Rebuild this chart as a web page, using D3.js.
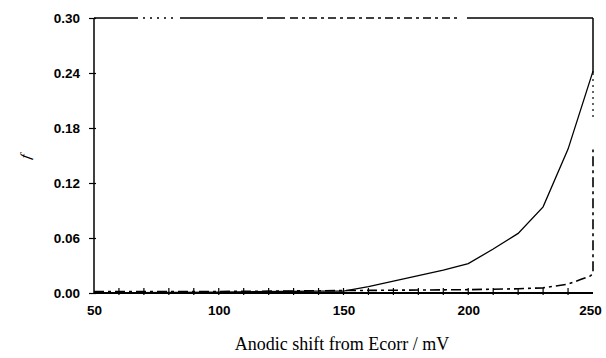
<!DOCTYPE html>
<html>
<head>
<meta charset="utf-8">
<script src="https://cdn.jsdelivr.net/npm/d3@7"></script>
<style>
html, body { margin: 0; padding: 0; background: #fff; overflow: hidden; }
svg { display: block; }
text { fill: #000; }
</style>
</head>
<body>
<div id="chart"></div>
<script>
const width = 606;
const height = 358;
const margin = {top: 18, right: 13, bottom: 65, left: 94};
const innerWidth = width - margin.left - margin.right;
const innerHeight = height - margin.top - margin.bottom;

// data
const xTicks = [50, 100, 150, 200, 250];
const yTicks = [0, 0.06, 0.12, 0.18, 0.24, 0.30];
const solidX = [50, 100, 140, 150, 160, 170, 180, 190, 200, 210, 220, 230, 240, 250];
const solidY = [0, 0.001, 0.002, 0.002, 0.007, 0.013, 0.019, 0.025, 0.032, 0.048, 0.065, 0.094, 0.157, 0.242];
const dashX = [50, 100, 150, 200, 220, 230, 240, 245, 249, 250, 250];
const dashY = [0, 0, 0.001, 0.002, 0.003, 0.004, 0.008, 0.013, 0.017, 0.02, 0.155];
const markX = [60, 70, 80, 90, 100, 110, 120, 130, 140, 150, 160, 170, 180, 190, 200, 210, 220, 230, 240];

const root = d3.select("#chart")
    .append("svg")
        .attr("width", width)
        .attr("height", height);

const svg = root.append("g")
    .attr("transform", "translate(" + margin.left + "," + margin.top + ")");

const xScale = d3.scaleLinear().domain([50, 250]).range([0, innerWidth]);
const yScale = d3.scaleLinear().domain([0, 0.30]).range([innerHeight, 0]);

const tickFont = "'Liberation Sans', Arial, sans-serif";

// frame: left, bottom solid; top with scan gaps; right partly dotted
svg.append("line")
    .attr("x1", 0).attr("x2", 0).attr("y1", 0).attr("y2", innerHeight)
    .attr("stroke", "#000").attr("stroke-width", 1.5);
svg.append("line")
    .attr("x1", 0).attr("x2", innerWidth).attr("y1", innerHeight).attr("y2", innerHeight)
    .attr("stroke", "#000").attr("stroke-width", 2);

const topDash = [44, 5, 2, 5, 2, 5, 2, 5, 2, 5, 2, 7, 83, 4, 18, 5]
    .concat(d3.merge(d3.range(9).map(() => [8, 4, 3, 4])))
    .concat([0, 6, 150]);
svg.append("line")
    .attr("x1", 0).attr("x2", innerWidth).attr("y1", 0).attr("y2", 0)
    .attr("stroke", "#000").attr("stroke-width", 1.3)
    .attr("stroke-dasharray", topDash.join(","));
svg.append("line")
    .attr("x1", innerWidth).attr("x2", innerWidth).attr("y1", 0).attr("y2", yScale(0.24))
    .attr("stroke", "#000").attr("stroke-width", 1.5);
svg.append("line")
    .attr("x1", innerWidth).attr("x2", innerWidth).attr("y1", yScale(0.24)).attr("y2", yScale(0.19))
    .attr("stroke", "#000").attr("stroke-width", 1.2).attr("stroke-dasharray", "2,4");

// axes
const xAxis = svg.append("g")
    .attr("class", "x-axis")
    .attr("transform", "translate(0," + innerHeight + ")")
    .call(d3.axisBottom(xScale).tickValues(xTicks).tickSize(0).tickPadding(12).tickFormat(d3.format("d")));
xAxis.select(".domain").remove();
xAxis.selectAll("text")
    .attr("font-family", tickFont)
    .attr("font-size", 13.5).attr("font-weight", "bold");
xAxis.selectAll(".tick").filter(d => d === 250).select("text").attr("dx", -3);

// y axis sits in the page's own x coordinates so its labels stay at positive x
const yAxis = root.append("g")
    .attr("class", "y-axis")
    .attr("transform", "translate(0," + margin.top + ")")
    .call(d3.axisLeft(yScale).tickValues(yTicks).tickSize(5).tickPadding(9).tickFormat(d3.format(".2f")));
yAxis.select(".domain").remove();
yAxis.selectAll(".tick line")
    .attr("x1", margin.left + 2).attr("x2", margin.left - 5).attr("stroke-width", 1.2);
yAxis.selectAll("text")
    .attr("x", margin.left - 14)
    .attr("font-family", tickFont)
    .attr("font-size", 13.5).attr("font-weight", "bold");

// plus-like markers along the baseline
svg.append("g").selectAll("line")
    .data(markX)
    .join("line")
        .attr("x1", d => xScale(d)).attr("x2", d => xScale(d))
        .attr("y1", innerHeight - 5).attr("y2", innerHeight + 2)
        .attr("stroke", "#000").attr("stroke-width", 1.2);

// dashed series
svg.append("path")
    .datum(dashX.map((x, i) => [x, dashY[i]]))
    .attr("fill", "none").attr("stroke", "#000").attr("stroke-width", 1.6)
    .attr("stroke-dasharray", "10,4,3,4")
    .attr("d", d3.line().x(d => xScale(d[0])).y(d => yScale(d[1]) - 1.5));

// solid series
svg.append("path")
    .datum(solidX.map((x, i) => [x, solidY[i]]))
    .attr("fill", "none").attr("stroke", "#000").attr("stroke-width", 1.3)
    .attr("d", d3.line().x(d => xScale(d[0])).y(d => yScale(d[1])));

// labels
svg.append("text")
    .attr("x", 248).attr("y", innerHeight + 57)
    .attr("text-anchor", "middle")
    .attr("font-family", "'Liberation Serif', 'Times New Roman', serif")
    .attr("font-size", 18)
    .text("Anodic shift from Ecorr / mV");

root.append("text")
    .attr("transform", "translate(30," + (margin.top + innerHeight / 2 + 2) + ") rotate(-80)")
    .attr("text-anchor", "middle")
    .attr("font-family", "'Liberation Serif', 'Times New Roman', serif")
    .attr("font-style", "italic")
    .attr("font-size", 15)
    .text("f");
</script>
</body>
</html>
